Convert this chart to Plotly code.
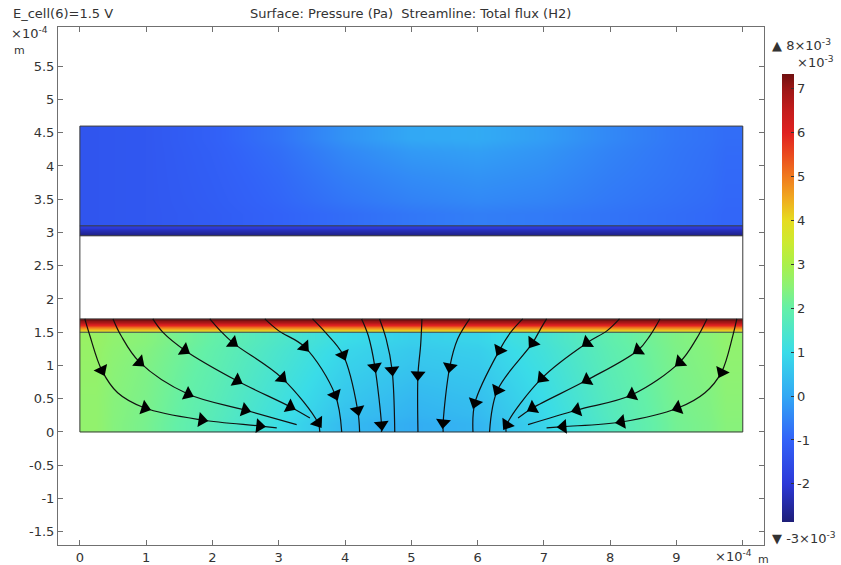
import numpy as np
import plotly.graph_objects as go

# ---------------- data (pressure in 1e-3 Pa, lengths in 1e-4 m) ----------------
x_cols = [0, 1, 2, 3, 4, 5, 6, 7, 8, 9, 10]

# lower porous domain (y = 0 .. 1.5)
bottom_y = [0.0, 0.5, 1.0, 1.5]
bottom_p = [
    [2.60, 2.25, 1.70, 1.05, 0.35, 0.10, 0.25, 0.85, 1.60, 2.20, 2.45],
    [2.60, 2.30, 1.80, 1.20, 0.60, 0.30, 0.45, 1.00, 1.70, 2.25, 2.50],
    [2.65, 2.35, 1.90, 1.35, 0.80, 0.55, 0.65, 1.15, 1.80, 2.30, 2.55],
    [2.70, 2.45, 2.00, 1.50, 1.00, 0.75, 0.85, 1.30, 1.90, 2.35, 2.60],
]
# thin catalyst strip (y = 1.5 .. 1.7)
strip_y = [1.50, 1.55, 1.60, 1.65, 1.70]
strip_p = [3.3, 4.5, 5.8, 6.8, 7.3]
# membrane-side strip (y = 2.95 .. 3.1)
memb_y = [2.95, 3.02, 3.10]
memb_p = [-2.85, -2.4, -1.9]
# upper domain (y = 3.1 .. 4.6)
top_y = [3.10, 3.85, 4.60]
top_p = [
    [-1.30, -1.25, -1.15, -1.00, -0.85, -0.70, -0.60, -0.65, -0.75, -0.85, -0.95],
    [-1.30, -1.25, -1.10, -0.90, -0.60, -0.40, -0.30, -0.40, -0.60, -0.75, -0.90],
    [-1.30, -1.25, -1.05, -0.75, -0.30, 0.00, 0.05, -0.15, -0.45, -0.70, -0.85],
]
# geometry boundaries
bound_y = [0.0, 1.5, 1.7, 2.95, 3.1, 4.6]
bound_x = [0.0, 10.0]

# colour scale
cb_vals = [-2.87, -2, -1, 0, 1, 2, 2.5, 3, 3.5, 4, 4.5, 5, 5.5, 6, 6.5, 7, 7.34]
cb_colors = ['#1e1e78', '#2c38d8', '#3262f8', '#32a8f4', '#3adce8', '#64f0a8',
             '#8cf276', '#aaf04a', '#ccea30', '#e6dc20', '#f0aa20', '#f07a1e',
             '#ea4a1e', '#e02020', '#c41c1c', '#9c1616', '#701010']
cb_ticks = [-2, -1, 0, 1, 2, 3, 4, 5, 6, 7]

# streamlines of total H2 flux: (x list, y list, arrow point indices)
streams = [
    ([0.075, 0.15, 0.33, 0.57, 0.98, 1.84, 2.71, 2.97], [1.70, 1.45, 0.93, 0.59, 0.36, 0.18, 0.09, 0.06], [2, 4, 5, 6]),
    ([0.50, 0.62, 0.90, 1.63, 2.49, 3.27], [1.70, 1.45, 1.05, 0.57, 0.33, 0.11], [2, 3, 4]),
    ([1.10, 1.25, 1.58, 2.37, 3.17, 3.47], [1.70, 1.50, 1.23, 0.77, 0.38, 0.21], [2, 3, 4]),
    ([1.96, 2.12, 2.31, 3.05, 3.59, 3.62], [1.70, 1.52, 1.34, 0.81, 0.14, 0.00], [2, 3, 4]),
    ([2.79, 3.00, 3.39, 3.85, 3.95], [1.70, 1.52, 1.28, 0.56, 0.00], [2, 3]),
    ([3.51, 3.70, 3.97, 4.19, 4.22], [1.70, 1.50, 1.16, 0.33, 0.00], [2, 3]),
    ([4.25, 4.35, 4.45, 4.55, 4.55], [1.70, 1.45, 0.98, 0.11, 0.00], [2, 3]),
    ([4.52, 4.62, 4.71, 4.75], [1.70, 1.40, 0.93, 0.00], [2]),
    ([5.16, 5.14, 5.10, 5.10], [1.70, 1.30, 0.86, 0.00], [2]),
    ([5.88, 5.70, 5.58, 5.48, 5.48], [1.70, 1.40, 0.98, 0.14, 0.00], [2, 3]),
    ([6.68, 6.50, 6.33, 5.96, 5.93], [1.70, 1.50, 1.23, 0.44, 0.00], [2, 3]),
    ([7.04, 6.95, 6.83, 6.30, 6.18], [1.70, 1.55, 1.34, 0.63, 0.00], [2, 3]),
    ([8.14, 7.95, 7.65, 6.97, 6.44, 6.43], [1.70, 1.52, 1.34, 0.81, 0.11, 0.00], [2, 3, 4]),
    ([8.75, 8.60, 8.42, 7.65, 6.83, 6.61], [1.70, 1.45, 1.23, 0.78, 0.36, 0.21], [2, 3, 4]),
    ([9.46, 9.30, 9.05, 8.33, 7.50, 6.76], [1.70, 1.40, 1.05, 0.56, 0.33, 0.11], [2, 3, 4]),
    ([9.91, 9.85, 9.68, 9.43, 9.02, 8.17, 7.29, 7.04], [1.70, 1.45, 0.90, 0.59, 0.36, 0.15, 0.08, 0.06], [2, 4, 5, 6]),
]

x_ticks = [0, 1, 2, 3, 4, 5, 6, 7, 8, 9, 10]
x_ticktext = ['0', '1', '2', '3', '4', '5', '6', '7', '8', '9', '']
y_ticks = [-1.5, -1, -0.5, 0, 0.5, 1, 1.5, 2, 2.5, 3, 3.5, 4, 4.5, 5, 5.5]
y_ticktext = ['-1.5', '-1', '-0.5', '0', '0.5', '1', '1.5', '2', '2.5', '3', '3.5', '4', '4.5', '5', '5.5']

# ---------------- figure ----------------
W, H = 841, 565
L, R, T, B = 58, 77, 27, 20
pw, ph = W - L - R, H - T - B

def px2x(px):
    return (px - L) / pw

def py2y(py):
    return (H - B - py) / ph

cmin, cmax = cb_vals[0], cb_vals[-1]
colorscale = [[(v - cmin) / (cmax - cmin), c] for v, c in zip(cb_vals, cb_colors)]

def edges(c):
    c = np.asarray(c, dtype=float)
    return np.concatenate([[c[0]], (c[1:] + c[:-1]) / 2, [c[-1]]])

xe = edges(x_cols)
xe2 = np.array([x_cols[0], (x_cols[0] + x_cols[-1]) / 2, x_cols[-1]])

fig = go.Figure()

common = dict(zsmooth='best', colorscale=colorscale, zmin=cmin, zmax=cmax,
              hoverinfo='skip')

fig.add_trace(go.Heatmap(x=xe, y=edges(bottom_y), z=bottom_p, showscale=True,
    colorbar=dict(thickness=12, thicknessmode='pixels', len=448, lenmode='pixels',
                  x=px2x(782), xanchor='left', y=py2y(298), yanchor='middle',
                  xpad=0, ypad=0, outlinewidth=0, borderwidth=0,
                  tickvals=cb_ticks, ticktext=[str(t) for t in cb_ticks],
                  ticks='inside', ticklen=3, tickcolor='#333333',
                  tickfont=dict(family='DejaVu Sans', size=13, color='#333333')),
    **common))
fig.add_trace(go.Heatmap(x=xe2, y=edges(strip_y), z=[[v, v] for v in strip_p],
                         showscale=False, **common))
fig.add_trace(go.Heatmap(x=xe2, y=edges(memb_y), z=[[v, v] for v in memb_p],
                         showscale=False, **common))
fig.add_trace(go.Heatmap(x=xe, y=edges(top_y), z=top_p, showscale=False, **common))

# geometry outline
ox, oy = [], []
for yb in bound_y:
    ox += [bound_x[0], bound_x[1], None]
    oy += [yb, yb, None]
for xb in bound_x:
    ox += [xb, xb, None]
    oy += [bound_y[0], bound_y[-1], None]
fig.add_trace(go.Scatter(x=ox, y=oy, mode='lines', line=dict(color='#3a3a3a', width=1),
                         hoverinfo='skip', showlegend=False))

# streamlines + arrows
ax, ay, aang = [], [], []
for xs, ys, idx in streams:
    fig.add_trace(go.Scatter(x=xs, y=ys, mode='lines',
                             line=dict(color='#111111', width=1.2, shape='spline', smoothing=1.0),
                             hoverinfo='skip', showlegend=False))
    for i in idx:
        j0, j1 = max(i - 1, 0), min(i + 1, len(xs) - 1)
        dx, dy = xs[j1] - xs[j0], ys[j1] - ys[j0]
        ax.append(xs[i]); ay.append(ys[i])
        aang.append(float(np.degrees(np.arctan2(dx, dy))))
fig.add_trace(go.Scatter(x=ax, y=ay, mode='markers',
                         marker=dict(symbol='triangle-up', size=13, color='black',
                                     angle=aang, line=dict(width=0)),
                         hoverinfo='skip', showlegend=False))

axis_common = dict(showline=True, linecolor='#707070', linewidth=1, mirror='ticks',
                   ticks='inside', ticklen=5, tickcolor='#707070', showgrid=False,
                   zeroline=False, automargin=False,
                   tickfont=dict(family='DejaVu Sans', size=13, color='#333333'))

fig.update_layout(
    width=W, height=H, margin=dict(l=L, r=R, t=T, b=B, autoexpand=False),
    paper_bgcolor='white', plot_bgcolor='white', showlegend=False,
    xaxis=dict(range=[-0.33, 10.32], tickvals=x_ticks, ticktext=x_ticktext, **axis_common),
    yaxis=dict(range=[-1.70, 6.09], tickvals=y_ticks, ticktext=y_ticktext, **axis_common),
    font=dict(family='DejaVu Sans', color='#333333'),
)

def ann(text, px, py, size=13, xanchor='left'):
    fig.add_annotation(text=text, x=px2x(px), y=py2y(py), xref='paper', yref='paper',
                       showarrow=False, xanchor=xanchor, yanchor='middle',
                       font=dict(family='DejaVu Sans', size=size, color='#333333'))

ann('E_cell(6)=1.5 V', 11, 13)
ann('Surface: Pressure (Pa)  Streamline: Total flux (H2)', 410, 13, xanchor='center')
ann('×10<sup>-4</sup>', 9, 33)
ann('m', 12, 50, size=11)
ann('×10<sup>-4</sup>', 713, 556)
ann('m', 756, 559, size=11)
ann('▲ 8×10<sup>-3</sup>', 770, 45)
ann('×10<sup>-3</sup>', 795, 62)
ann('▼ -3×10<sup>-3</sup>', 770, 538)

fig.write_html('out.html')
